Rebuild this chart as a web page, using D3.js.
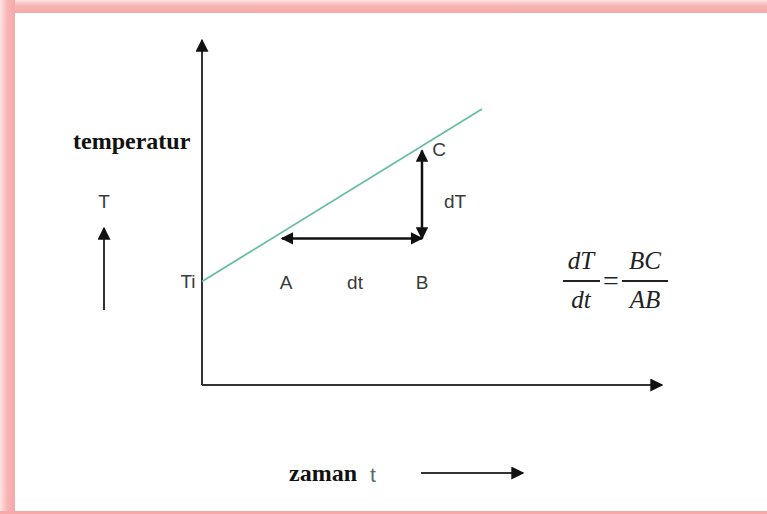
<!DOCTYPE html>
<html>
<head>
<meta charset="utf-8">
<script src="https://cdn.jsdelivr.net/npm/d3@7"></script>
<style>
  body { margin: 0; background: #fff; }
  svg { display: block; }
</style>
</head>
<body>
<div id="chart-area"></div>
<script>
// *********************
// Data
// *********************

// temperature line (time, temperature)
const lineTime = [0, 7];
const lineTemp = [3, 8];

// triangle points A, B, C
const pointNames = ["A", "B", "C"];
const pointTime = [2, 5.5, 5.5];
const pointTemp = [4.25, 4.25, 6.8];

// axis extents
const timeDomain = [0, 11.5];
const tempDomain = [0, 10];

// *********************
// Basic setup SVG
// *********************

const width = 767;
const height = 514;

const svg = d3.select("#chart-area")
	.append("svg")
	.attr("width", width)
	.attr("height", height);

// pink frame
const defs = svg.append("defs");

const gradTop = defs.append("linearGradient")
	.attr("id", "grad-top")
	.attr("x1", 0).attr("y1", 0).attr("x2", 0).attr("y2", 1);
gradTop.append("stop").attr("offset", "0%").attr("stop-color", "#fde3e3");
gradTop.append("stop").attr("offset", "45%").attr("stop-color", "#f8b4b4");
gradTop.append("stop").attr("offset", "100%").attr("stop-color", "#f7a9a9");

const gradLeft = defs.append("linearGradient")
	.attr("id", "grad-left")
	.attr("x1", 0).attr("y1", 0).attr("x2", 1).attr("y2", 0);
gradLeft.append("stop").attr("offset", "0%").attr("stop-color", "#fde3e3");
gradLeft.append("stop").attr("offset", "50%").attr("stop-color", "#f8b4b4");
gradLeft.append("stop").attr("offset", "100%").attr("stop-color", "#f7a9a9");

svg.append("rect")
	.attr("x", 0).attr("y", 0)
	.attr("width", width).attr("height", 13)
	.attr("fill", "url(#grad-top)");

svg.append("rect")
	.attr("x", 0).attr("y", 0)
	.attr("width", 15).attr("height", height)
	.attr("fill", "url(#grad-left)");

svg.append("rect")
	.attr("x", 0).attr("y", 511)
	.attr("width", width).attr("height", 3)
	.attr("fill", "#f7a9a9");

// arrow markers
defs.append("marker")
	.attr("id", "head")
	.attr("viewBox", "0 0 10 10")
	.attr("refX", 9)
	.attr("refY", 5)
	.attr("markerWidth", 6.5)
	.attr("markerHeight", 6.5)
	.attr("markerUnits", "strokeWidth")
	.attr("orient", "auto-start-reverse")
	.append("path")
	.attr("d", "M0,0 L10,5 L0,10 Z")
	.attr("fill", "#111");

defs.append("marker")
	.attr("id", "head-small")
	.attr("viewBox", "0 0 10 10")
	.attr("refX", 9)
	.attr("refY", 5)
	.attr("markerWidth", 5)
	.attr("markerHeight", 5)
	.attr("markerUnits", "strokeWidth")
	.attr("orient", "auto-start-reverse")
	.append("path")
	.attr("d", "M0,0 L10,5 L0,10 Z")
	.attr("fill", "#111");

// *********************
// Scales
// *********************

const x = d3.scaleLinear()
	.domain(timeDomain)
	.range([202, 662]);

const y = d3.scaleLinear()
	.domain(tempDomain)
	.range([385, 40]);

// *********************
// Axes
// *********************

svg.append("line")
	.attr("x1", x(0)).attr("y1", y(0))
	.attr("x2", x(0)).attr("y2", y(tempDomain[1]))
	.attr("stroke", "#333")
	.attr("stroke-width", 2)
	.attr("marker-end", "url(#head)");

svg.append("line")
	.attr("x1", x(0)).attr("y1", y(0))
	.attr("x2", x(timeDomain[1])).attr("y2", y(0))
	.attr("stroke", "#333")
	.attr("stroke-width", 2)
	.attr("marker-end", "url(#head)");

// temperature line
const lineData = lineTime.map((t, i) => ({t: t, T: lineTemp[i]}));

svg.append("path")
	.datum(lineData)
	.attr("d", d3.line().x(d => x(d.t)).y(d => y(d.T)))
	.attr("fill", "none")
	.attr("stroke", "#68bda6")
	.attr("stroke-width", 1.8);

// dt and dT arrows
const pts = pointNames.map((n, i) => ({name: n, t: pointTime[i], T: pointTemp[i]}));
const A = pts[0], B = pts[1], C = pts[2];

svg.append("line")
	.attr("x1", x(A.t)).attr("y1", y(A.T))
	.attr("x2", x(B.t)).attr("y2", y(B.T))
	.attr("stroke", "#111")
	.attr("stroke-width", 2.5)
	.attr("marker-start", "url(#head-small)")
	.attr("marker-end", "url(#head-small)");

svg.append("line")
	.attr("x1", x(B.t)).attr("y1", y(B.T))
	.attr("x2", x(C.t)).attr("y2", y(C.T))
	.attr("stroke", "#111")
	.attr("stroke-width", 2.5)
	.attr("marker-start", "url(#head-small)")
	.attr("marker-end", "url(#head-small)");

// *********************
// Labels
// *********************

const sans = "'Liberation Sans', Arial, sans-serif";
const serif = "'Liberation Serif', 'Times New Roman', serif";

function label(px, py, txt, opts) {
	opts = opts || {};
	return svg.append("text")
		.attr("x", px)
		.attr("y", py)
		.attr("font-family", opts.family || sans)
		.attr("font-size", opts.size || "19px")
		.attr("font-weight", opts.weight || "normal")
		.attr("font-style", opts.style || "normal")
		.attr("text-anchor", opts.anchor || "middle")
		.attr("fill", opts.fill || "#3a3a3a")
		.text(txt);
}

// point labels
label(x(A.t) + 4, 289, A.name);
label(x(B.t), 289, B.name);
label(x(C.t) + 17, y(C.T) + 6, C.name);
label((x(A.t) + x(B.t)) / 2 + 3, 289, "dt");
label(x(B.t) + 33, 208, "dT");
label(x(0) - 14, 288, "Ti");

// y axis title
label(73, 149, "temperatur", {family: serif, size: "24px", weight: "bold", anchor: "start", fill: "#111"});
label(104, 208, "T");
svg.append("line")
	.attr("x1", 104).attr("y1", 310)
	.attr("x2", 104).attr("y2", 228)
	.attr("stroke", "#333")
	.attr("stroke-width", 2)
	.attr("marker-end", "url(#head)");

// x axis title
label(289, 481, "zaman", {family: serif, size: "24px", weight: "bold", anchor: "start", fill: "#111"});
label(373, 482, "t", {fill: "#556b60", size: "21px"});
svg.append("line")
	.attr("x1", 421).attr("y1", 473)
	.attr("x2", 523).attr("y2", 473)
	.attr("stroke", "#333")
	.attr("stroke-width", 2)
	.attr("marker-end", "url(#head)");

// formula dT/dt = BC/AB
const fs = {family: serif, size: "25px", style: "italic", fill: "#222"};
label(581, 269, "dT", fs);
label(581, 308, "dt", fs);
label(645, 269, "BC", fs);
label(645, 308, "AB", fs);
label(611, 290, "=", {family: serif, size: "28px", fill: "#222"});

svg.append("line")
	.attr("x1", 563).attr("x2", 600)
	.attr("y1", 281).attr("y2", 281)
	.attr("stroke", "#222").attr("stroke-width", 2.2);

svg.append("line")
	.attr("x1", 622).attr("x2", 668)
	.attr("y1", 281).attr("y2", 281)
	.attr("stroke", "#222").attr("stroke-width", 2.2);
</script>
</body>
</html>
